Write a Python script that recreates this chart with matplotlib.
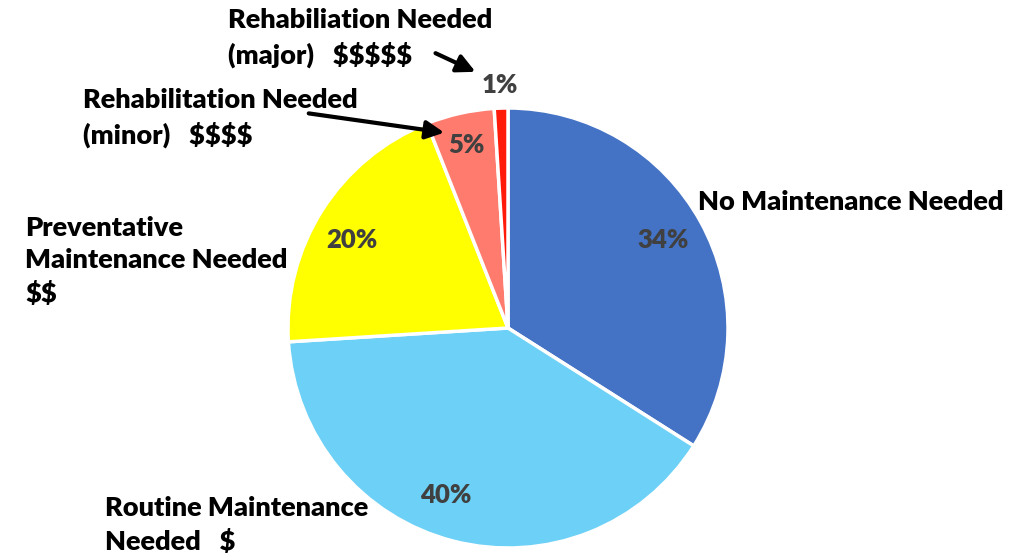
import matplotlib
matplotlib.use("Agg")
import matplotlib.pyplot as plt

# data
categories = ["No Maintenance Needed", "Routine Maintenance\nNeeded   $",
              "Preventative\nMaintenance Needed\n$$",
              "Rehabilitation Needed\n(minor)   $$$$",
              "Rehabiliation Needed\n(major)   $$$$$"]
shares = [34, 40, 20, 5, 1]
pct_labels = ["34%", "40%", "20%", "5%", "1%"]
colors = ["#4472C4", "#6DD0F6", "#FFFF00", "#FF7B6E", "#FF1A0A"]

W, H = 1028, 555
plt.rcParams['font.family'] = ['Lato', 'DejaVu Sans']
plt.rcParams['text.parse_math'] = False

fig = plt.figure(figsize=(W / 100, H / 100), dpi=100)
ax = fig.add_axes([0, 0, 1, 1])

# pie in pixel coords (y axis flipped, so counterclock=True draws clockwise on screen)
wedges, _ = ax.pie(shares, colors=colors, startangle=-90, counterclock=True,
                   center=(508, 328), radius=220, frame=True,
                   wedgeprops=dict(edgecolor='white', linewidth=2.5))
ax.set_xlim(0, W)
ax.set_ylim(H, 0)
ax.set_aspect('equal')
ax.axis('off')

pct_pos = [(663, 240), (446, 495), (352, 240), (466, 145), (500, 85)]
for txt, (x, y) in zip(pct_labels, pct_pos):
    ax.text(x, y, txt, ha='center', va='center', fontsize=18.5,
            fontweight='heavy', color='#404040')

cat_pos = [(698, 202), (105, 525), (25, 261), (83, 118), (228, 38)]
for txt, (x, y) in zip(categories, cat_pos):
    ax.text(x, y, txt, ha='left', va='center', fontsize=19.5,
            fontweight='heavy', color='black', linespacing=1.42)

# arrows to the small slices
arrow = dict(arrowstyle='-|>,head_length=1.1,head_width=0.55', color='black', lw=3)
ax.annotate('', xy=(447, 133), xytext=(306, 113), arrowprops=arrow)
ax.annotate('', xy=(478, 73), xytext=(433, 52), arrowprops=arrow)

fig.savefig('out.png', dpi=100)
